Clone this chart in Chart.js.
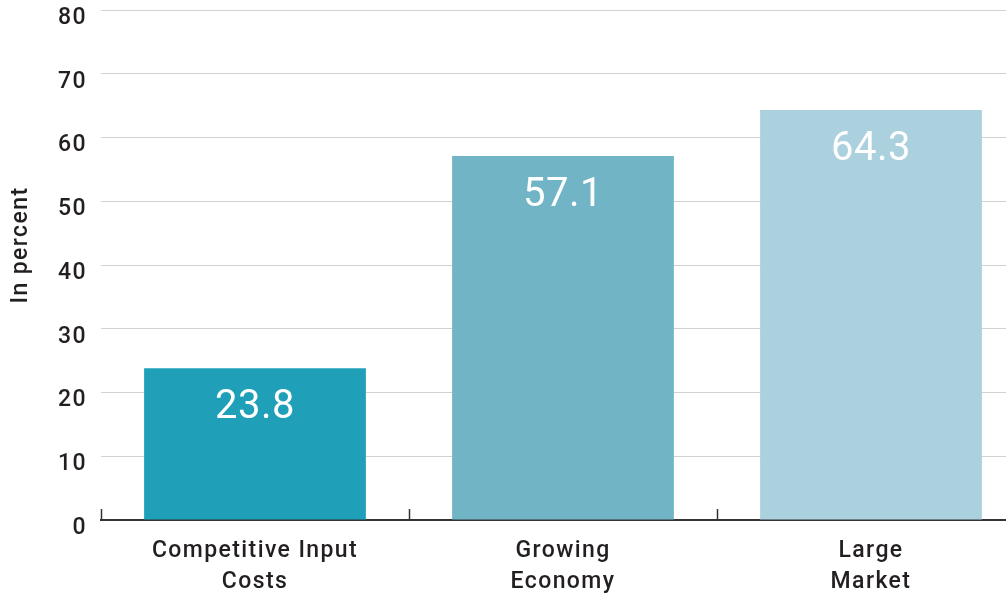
<!DOCTYPE html>
<html>
<head>
<meta charset="utf-8">
<script src="https://cdn.jsdelivr.net/npm/chart.js@4/dist/chart.umd.min.js"></script>
<style>
  html, body { margin: 0; padding: 0; background: #fff; overflow: hidden; }
  #wrap { width: 1025px; height: 595px; }
</style>
</head>
<body>
<div id="wrap"><canvas id="c" width="1025" height="595"></canvas></div>
<script>
// Survey results: share of respondents citing each factor
const categories = [["Competitive Input", "Costs"], ["Growing", "Economy"], ["Large", "Market"]];
const values = [23.8, 57.1, 64.3];
const barColors = ["#1fa0b8", "#71b4c6", "#abd0de"];
const yTicks = [0, 10, 20, 30, 40, 50, 60, 70, 80];
const yTitle = "In percent";

const TEXT = "#231f20";
const FONT = "Roboto, 'Noto Sans', sans-serif";

// Slightly open letter spacing for all axis text
const spacing = {
  id: "spacing",
  beforeDraw(chart) { chart.ctx.letterSpacing = "1.4px"; }
};

// Rotated y-axis title, sitting a little above the middle of the plot
const axisTitle = {
  id: "axisTitle",
  afterDraw(chart) {
    const ctx = chart.ctx;
    const a = chart.chartArea;
    ctx.save();
    ctx.letterSpacing = "1.4px";
    ctx.fillStyle = TEXT;
    ctx.font = "500 23px " + FONT;
    ctx.textAlign = "center";
    ctx.textBaseline = "middle";
    ctx.translate(21, (a.top + a.bottom) / 2 - 20);
    ctx.rotate(-Math.PI / 2);
    ctx.fillText(yTitle, 0, 0);
    ctx.restore();
  }
};

// White value labels placed inside the top of each bar
const valueLabels = {
  id: "valueLabels",
  afterDatasetsDraw(chart) {
    const ctx = chart.ctx;
    const meta = chart.getDatasetMeta(0);
    ctx.save();
    ctx.letterSpacing = "0.5px";
    ctx.fillStyle = "#ffffff";
    ctx.font = "400 40px " + FONT;
    ctx.textAlign = "center";
    ctx.textBaseline = "middle";
    meta.data.forEach((bar, i) => {
      ctx.fillText(values[i].toFixed(1), bar.x, bar.y + 40);
    });
    ctx.restore();
  }
};

// Short upward tick marks on the category axis at category boundaries
const categoryTicks = {
  id: "categoryTicks",
  afterDraw(chart) {
    const x = chart.scales.x;
    const ctx = chart.ctx;
    const n = categories.length;
    const step = (x.right - x.left) / n;
    ctx.save();
    ctx.strokeStyle = "#333";
    ctx.lineWidth = 1.5;
    for (let i = 0; i <= n; i++) {
      const px = Math.round(x.left + i * step) + 0.5;
      ctx.beginPath();
      ctx.moveTo(px, x.top - 11);
      ctx.lineTo(px, x.top);
      ctx.stroke();
    }
    ctx.restore();
  }
};

new Chart(document.getElementById("c"), {
  type: "bar",
  data: {
    labels: categories,
    datasets: [{
      data: values,
      backgroundColor: barColors,
      borderWidth: 0,
      barPercentage: 0.72,
      categoryPercentage: 1
    }]
  },
  options: {
    responsive: false,
    animation: false,
    layout: { padding: { top: 10, left: 0, right: 0, bottom: 0 } },
    plugins: { legend: { display: false }, tooltip: { enabled: false } },
    scales: {
      x: {
        offset: true,
        grid: { display: false },
        border: { display: true, color: "#333", width: 2 },
        ticks: {
          color: TEXT,
          font: { family: FONT, size: 23, weight: "500", lineHeight: 1.38 },
          padding: 7,
          maxRotation: 0,
          autoSkip: false
        },
        afterFit(scale) { scale.height = 75; }
      },
      y: {
        min: 0,
        max: 80,
        afterBuildTicks(scale) { scale.ticks = yTicks.map(v => ({ value: v })); },
        grid: {
          color: ctx => (ctx.tick && ctx.tick.value === 0) ? "rgba(0,0,0,0)" : "#d2d2d2",
          lineWidth: 1,
          drawTicks: false
        },
        border: { display: false },
        ticks: {
          color: TEXT,
          font: { family: FONT, size: 23, weight: "500" },
          padding: 14,
          labelOffset: 8
        },
        afterFit(scale) {
          scale.width = 101;
          scale.paddingTop = 0;
          scale.paddingBottom = 0;
        }
      }
    }
  },
  plugins: [spacing, valueLabels, categoryTicks, axisTitle]
});
</script>
</body>
</html>
